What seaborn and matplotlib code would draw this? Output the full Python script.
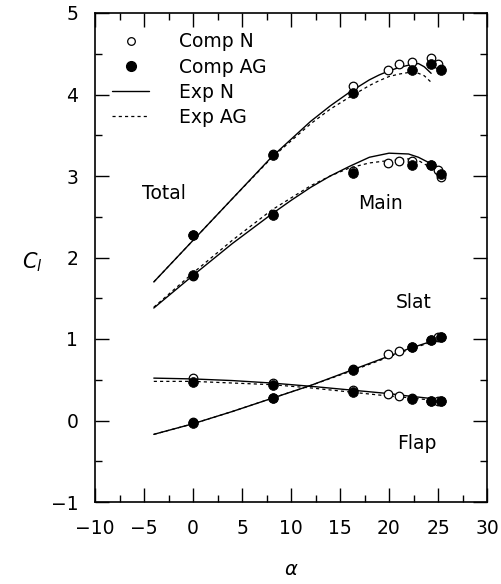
import numpy as np
import pandas as pd
import matplotlib
matplotlib.use("Agg")
import matplotlib.pyplot as plt
from matplotlib.lines import Line2D
from matplotlib.ticker import MultipleLocator
import seaborn as sns

# ---- computed data (points) ----
alpha_comp_n = [0, 8.2, 16.3, 19.9, 21.0, 22.3, 24.3, 25.0, 25.3]
total_comp_n = [2.27, 3.27, 4.10, 4.30, 4.37, 4.40, 4.45, 4.37, 4.31]
main_comp_n = [1.77, 2.53, 3.06, 3.16, 3.18, 3.18, 3.14, 3.07, 2.99]
slat_comp_n = [-0.02, 0.28, 0.63, 0.81, 0.85, 0.90, 0.99, 1.02, 1.03]
flap_comp_n = [0.52, 0.46, 0.37, 0.32, 0.30, 0.27, 0.24, 0.245, 0.24]

alpha_comp_ag = [0, 8.2, 16.3, 22.3, 24.3, 25.3]
total_comp_ag = [2.27, 3.26, 4.02, 4.30, 4.38, 4.30]
main_comp_ag = [1.79, 2.52, 3.04, 3.13, 3.14, 3.02]
slat_comp_ag = [-0.03, 0.27, 0.62, 0.90, 0.99, 1.03]
flap_comp_ag = [0.47, 0.44, 0.35, 0.26, 0.24, 0.24]

# ---- experimental data (lines) ----
alpha_exp_total = [-4, 0, 4, 8, 12, 14, 16, 18, 19, 20, 21, 22, 23, 23.6, 24.3]
total_exp_n = [1.70, 2.21, 2.72, 3.23, 3.67, 3.86, 4.03, 4.18, 4.24, 4.29, 4.33, 4.36, 4.38, 4.34, 4.26]
total_exp_ag = [1.70, 2.21, 2.72, 3.22, 3.64, 3.82, 3.97, 4.11, 4.17, 4.22, 4.25, 4.27, 4.26, 4.23, 4.15]

alpha_exp_main = [-4, 0, 4, 8, 10, 12, 14, 16, 18, 20, 22, 23, 24.3, 25.2]
main_exp_n = [1.38, 1.78, 2.17, 2.53, 2.70, 2.86, 3.00, 3.12, 3.23, 3.28, 3.27, 3.23, 3.15, 3.07]
main_exp_ag = [1.39, 1.81, 2.21, 2.58, 2.73, 2.88, 3.00, 3.10, 3.16, 3.19, 3.21, 3.19, 3.10, 3.02]

alpha_exp_comp = [-4, 0, 4, 8, 12, 16, 20, 22, 24.3]
slat_exp_n = [-0.17, -0.04, 0.11, 0.27, 0.43, 0.61, 0.79, 0.88, 0.97]
slat_exp_ag = [-0.17, -0.04, 0.11, 0.27, 0.43, 0.60, 0.78, 0.87, 0.96]
flap_exp_n = [0.52, 0.51, 0.49, 0.46, 0.42, 0.375, 0.33, 0.30, 0.27]
flap_exp_ag = [0.48, 0.48, 0.46, 0.44, 0.40, 0.35, 0.30, 0.28, 0.25]

labels_text = ["Total", "Main", "Slat", "Flap"]
legend_labels = ["Comp N", "Comp AG", "Exp N", "Exp AG"]

sns.set_theme(style="ticks")
plt.rcParams["font.family"] = ["DejaVu Sans"]
plt.rcParams["mathtext.fontset"] = "dejavusans"
plt.rcParams["text.color"] = "black"
plt.rcParams["axes.labelcolor"] = "black"
plt.rcParams["xtick.color"] = "black"
plt.rcParams["ytick.color"] = "black"

fig = plt.figure(figsize=(5.01, 5.84), dpi=100)
ax = fig.add_axes([95 / 501, 1 - 502 / 584, (487 - 95) / 501, (502 - 13) / 584])

# experimental lines
exp_sets = [
    (alpha_exp_total, total_exp_n, total_exp_ag),
    (alpha_exp_main, main_exp_n, main_exp_ag),
    (alpha_exp_comp, slat_exp_n, slat_exp_ag),
    (alpha_exp_comp, flap_exp_n, flap_exp_ag),
]
for i, (a, yn, yag) in enumerate(exp_sets):
    df_n = pd.DataFrame({"alpha": a, "cl": yn})
    df_ag = pd.DataFrame({"alpha": a, "cl": yag})
    sns.lineplot(data=df_n, x="alpha", y="cl", ax=ax, color="black", lw=1.0,
                 sort=False, estimator=None)
    sns.lineplot(data=df_ag, x="alpha", y="cl", ax=ax, color="black", lw=0.9,
                 sort=False, estimator=None)
    ax.lines[-1].set_dashes([2.5, 2.5])

# computed points
for yvals in [total_comp_n, main_comp_n, slat_comp_n, flap_comp_n]:
    sns.scatterplot(x=alpha_comp_n, y=yvals, ax=ax, facecolor="white", s=38,
                    edgecolor="black", linewidth=0.9, zorder=3)
for yvals in [total_comp_ag, main_comp_ag, slat_comp_ag, flap_comp_ag]:
    sns.scatterplot(x=alpha_comp_ag, y=yvals, ax=ax, color="black", s=50,
                    edgecolor="black", linewidth=0.5, zorder=4)

ax.set_xlim(-10, 30)
ax.set_ylim(-1, 5)
ax.xaxis.set_major_locator(MultipleLocator(5))
ax.xaxis.set_minor_locator(MultipleLocator(2.5))
ax.yaxis.set_major_locator(MultipleLocator(1))
ax.yaxis.set_minor_locator(MultipleLocator(0.5))
ax.tick_params(which="both", direction="in", top=True, right=True, color="black",
               labelcolor="black", labelsize=13.5, width=1.0)
ax.tick_params(which="major", length=10, pad=12)
ax.tick_params(which="minor", length=5)
for s in ax.spines.values():
    s.set_linewidth(1.2)
    s.set_color("black")
ax.set_xticklabels([f"{int(v)}".replace("-", "\u2212") for v in ax.get_xticks()])
ax.set_yticklabels([f"{int(v)}".replace("-", "\u2212") for v in ax.get_yticks()])

ax.set_xlabel(r"$\alpha$", fontsize=14, labelpad=16, color="black")
ax.set_ylabel(r"$C_l$", fontsize=15, rotation=0, va="center", color="black")
ax.yaxis.set_label_coords(-0.16, 0.49)

# component labels
tpos = [(-3.0, 2.78), (19.1, 2.66), (22.5, 1.45), (22.8, -0.28)]
for t, (x, y) in zip(labels_text, tpos):
    ax.text(x, y, t, fontsize=13.5, ha="center", va="center", color="black")

handles = [
    Line2D([], [], ls="none", marker="o", mfc="white", mec="black", ms=5.5, mew=0.9),
    Line2D([], [], ls="none", marker="o", mfc="black", mec="black", ms=7),
    Line2D([], [], color="black", lw=1.0),
    Line2D([], [], color="black", lw=0.9, dashes=[2.5, 2.5]),
]
leg = ax.legend(handles, legend_labels, loc="upper left", frameon=False, fontsize=13.5,
                handlelength=2.0, handletextpad=1.6, labelspacing=0.33,
                bbox_to_anchor=(0.0, 0.995))
for t in leg.get_texts():
    t.set_color("black")

fig.savefig("out.png", dpi=100)
